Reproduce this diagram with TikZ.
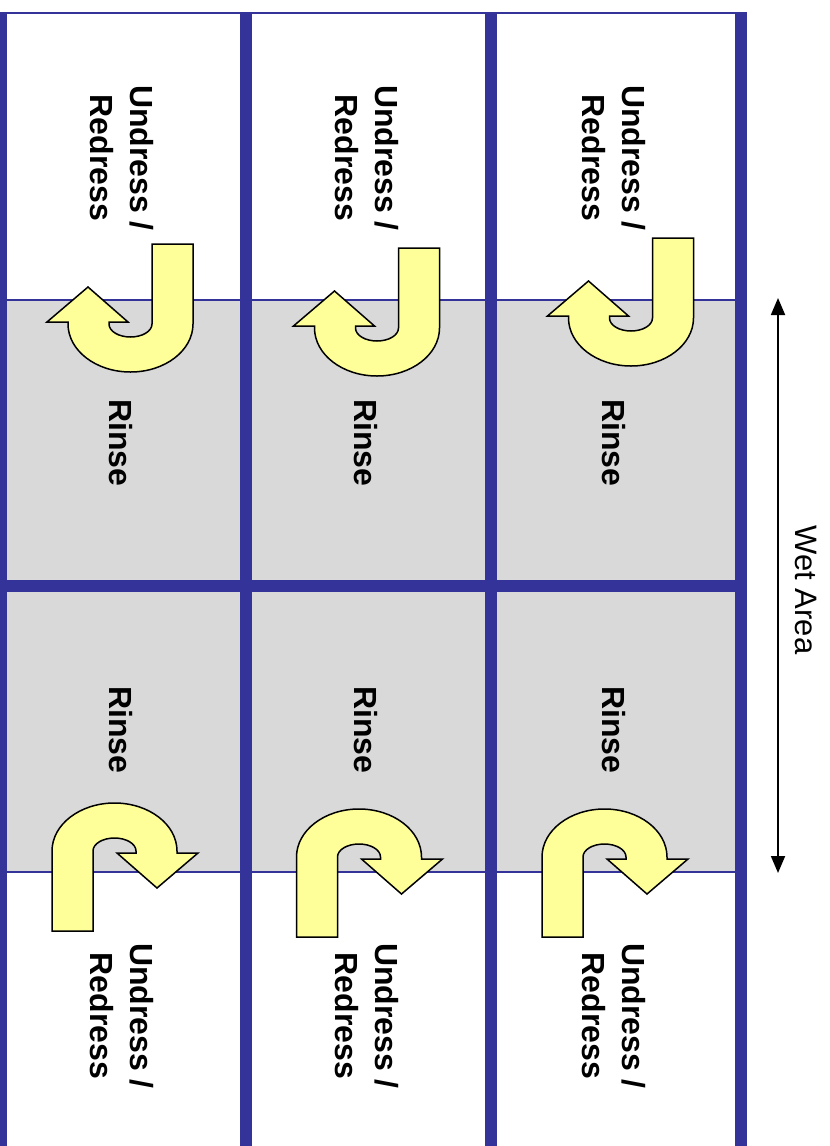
\documentclass[tikz,border=0pt]{standalone}
\usepackage{fontspec}
\setmainfont{Liberation Sans}
\usetikzlibrary{arrows.meta}
\definecolor{laneblue}{HTML}{333399}
\definecolor{wetgray}{HTML}{D9D9D9}
\definecolor{arrowyellow}{HTML}{FFFF99}
\tikzset{
  thickwall/.style={draw=laneblue, line width=12pt},
  thinwall/.style={draw=laneblue, line width=2pt},
  turnarrow/.style={draw=black, fill=arrowyellow, line width=1.5pt, line join=miter},
  lanelabel/.style={rotate=-90, font=\fontsize{32}{40}\selectfont\bfseries, align=center, inner sep=0pt, text=black},
  wetlabel/.style={rotate=-90, font=\fontsize{31}{38}\selectfont, inner sep=0pt, text=black},
  uturn/.pic={
    \path[turnarrow] (21.5,-80) -- (62.5,-80) -- (62.5,0)
      .. controls (62.5,26.5) and (34.5,48) .. (0,48)
      .. controls (-34.5,48) and (-62.5,26.5) .. (-62.5,0)
      -- (-62.5,-2) -- (-83.5,-2) -- (-42.5,-37) -- (-2.5,-2) -- (-21.5,-2) -- (-21.5,0)
      .. controls (-21.5,7.2) and (-11.9,13) .. (0,13)
      .. controls (11.9,13) and (21.5,7.2) .. (21.5,0) -- cycle;
  }
}
\begin{document}
\begin{tikzpicture}[x=1pt,y=-1pt]
\useasboundingbox (0,0) rectangle (830,1146);
\fill[white] (0,0) rectangle (830,1146);
% wet area
\fill[wetgray] (0,300) rectangle (741,872);
\draw[thinwall] (0,300) -- (741,300);
\draw[thinwall] (0,872) -- (741,872);
\draw[thinwall] (0,12.5) -- (745,12.5);
% walls
\foreach \xx in {1,246,491,741} {
  \draw[thickwall] (\xx,12) -- (\xx,1146);
}
\draw[thickwall] (0,585.5) -- (741,585.5);
% U-turn arrows
\pic (t1) at (130.5,324) {uturn};
\pic (t2) at (377,328) {uturn};
\pic (t3) at (631,318) {uturn};
\pic[rotate=180] (b1) at (114.5,851) {uturn};
\pic[rotate=180] (b2) at (359,857) {uturn};
\pic[rotate=180] (b3) at (604.5,857) {uturn};
% labels
\node[lanelabel] (u1) at (122,158) {Undress /\\Redress};
\node[lanelabel] (u2) at (367,158) {Undress /\\Redress};
\node[lanelabel] (u3) at (614,158) {Undress /\\Redress};
\node[lanelabel] (r1) at (121,443) {Rinse};
\node[lanelabel] (r2) at (366,443) {Rinse};
\node[lanelabel] (r3) at (613.5,443) {Rinse};
\node[lanelabel] (s1) at (121,730) {Rinse};
\node[lanelabel] (s2) at (366,730) {Rinse};
\node[lanelabel] (s3) at (613.5,730) {Rinse};
\node[lanelabel] (d1) at (122,1016) {Undress /\\Redress};
\node[lanelabel] (d2) at (367,1016) {Undress /\\Redress};
\node[lanelabel] (d3) at (614,1016) {Undress /\\Redress};
% wet area dimension
\coordinate (wa1) at (778,298);
\coordinate (wa2) at (778,873);
\draw[line width=1.8pt, {Triangle[width=14pt,length=17pt]}-{Triangle[width=14pt,length=17pt]}] (wa1) -- (wa2);
\node[wetlabel] (wet) at (806,590) {Wet Area};
\end{tikzpicture}
\end{document}
